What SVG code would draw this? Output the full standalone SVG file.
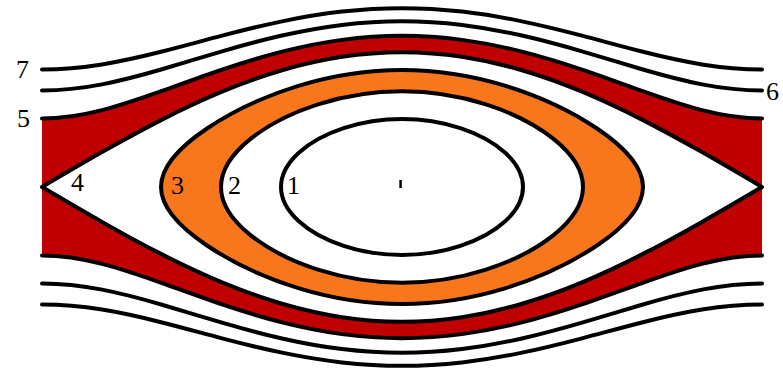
<svg xmlns="http://www.w3.org/2000/svg" width="783" height="368" viewBox="0 0 783 368">
<style>
.ln{fill:none;stroke:#000;stroke-width:4;stroke-linecap:round;stroke-linejoin:round}
.lbl{font-family:"Liberation Serif","Times New Roman",serif;font-size:26px;fill:#000}
</style>
<rect width="783" height="368" fill="#fff"/>
<g id="red-region">
<path fill="#c00000" d="M 42 118.53 C 62 118.53, 82 115.309, 102 110.15 C 122 104.991, 142 98.067, 162 90.92 C 182 83.773, 202 76.396, 222 69.64 C 242 62.884, 262 56.734, 282 51.66 C 302 46.586, 322 42.585, 342 39.89 C 362 37.195, 382 35.81, 402 35.81 C 422 35.81, 442 37.195, 462 39.89 C 482 42.585, 502 46.586, 522 51.66 C 542 56.734, 562 62.884, 582 69.64 C 602 76.396, 622 83.773, 642 90.92 C 662 98.067, 682 104.991, 702 110.15 C 722 115.309, 742 118.53, 762 118.53 L 762 255.47 C 742 255.47, 722 258.691, 702 263.85 C 682 269.009, 662 275.933, 642 283.08 C 622 290.227, 602 297.604, 582 304.36 C 562 311.116, 542 317.266, 522 322.34 C 502 327.414, 482 331.415, 462 334.11 C 442 336.805, 422 338.19, 402 338.19 C 382 338.19, 362 336.805, 342 334.11 C 322 331.415, 302 327.414, 282 322.34 C 262 317.266, 242 311.116, 222 304.36 C 202 297.604, 182 290.227, 162 283.08 C 142 275.933, 122 269.009, 102 263.85 C 82 258.691, 62 255.47, 42 255.47 Z"/>
</g>
<g id="separatrix-4">
<path class="ln" fill="#fff" style="fill:#fff" d="M 402 52.2 C 422 52.2, 442 53.745, 462 56.79 C 482 59.835, 502 64.378, 522 70.26 C 542 76.142, 562 83.362, 582 91.68 C 602 99.998, 622 109.412, 642 119.6 C 662 129.788, 682 140.747, 702 152.11 C 722 163.473, 742 175.236, 762 187 C 742 198.764, 722 210.527, 702 221.89 C 682 233.253, 662 244.212, 642 254.4 C 622 264.588, 602 274.002, 582 282.32 C 562 290.638, 542 297.858, 522 303.74 C 502 309.622, 482 314.165, 462 317.21 C 442 320.255, 422 321.8, 402 321.8 C 382 321.8, 362 320.255, 342 317.21 C 322 314.165, 302 309.622, 282 303.74 C 262 297.858, 242 290.638, 222 282.32 C 202 274.002, 182 264.588, 162 254.4 C 142 244.212, 122 233.253, 102 221.89 C 82 210.527, 62 198.764, 42 187 C 62 175.236, 82 163.473, 102 152.11 C 122 140.747, 142 129.788, 162 119.6 C 182 109.412, 202 99.998, 222 91.68 C 242 83.362, 262 76.142, 282 70.26 C 302 64.378, 322 59.835, 342 56.79 C 362 53.745, 382 52.2, 402 52.2 Z"/>
<text class="lbl" x="71" y="191">4</text>
</g>
<g id="orbit-3">
<path class="ln" style="fill:#f8771d" d="M 402 69.98 C 436.72 69.98, 471.52 75.45, 504.9 85.66 C 538.28 95.87, 570.65 110.8, 596.98 128.49 C 623.31 146.18, 643 166.58, 643 187 C 643 207.42, 623.31 227.82, 596.98 245.51 C 570.65 263.2, 538.28 278.13, 504.9 288.34 C 471.52 298.55, 436.72 304.02, 402 304.02 C 367.28 304.02, 332.48 298.55, 299.1 288.34 C 265.72 278.13, 233.35 263.2, 207.02 245.51 C 180.69 227.82, 161 207.42, 161 187 C 161 166.58, 180.69 146.18, 207.02 128.49 C 233.35 110.8, 265.72 95.87, 299.1 85.66 C 332.48 75.45, 367.28 69.98, 402 69.98 Z"/>
<text class="lbl" x="171" y="194">3</text>
</g>
<g id="orbit-2">
<path class="ln" style="fill:#fff" d="M 402 91.27 C 430.41 91.27, 458.88 95.75, 485.19 104.1 C 511.51 112.45, 535.8 124.67, 553.81 139.14 C 571.82 153.61, 583 170.29, 583 187 C 583 203.71, 571.82 220.39, 553.81 234.86 C 535.8 249.33, 511.51 261.55, 485.19 269.9 C 458.88 278.25, 430.41 282.73, 402 282.73 C 373.59 282.73, 345.12 278.25, 318.81 269.9 C 292.49 261.55, 268.2 249.33, 250.19 234.86 C 232.18 220.39, 221 203.71, 221 187 C 221 170.29, 232.18 153.61, 250.19 139.14 C 268.2 124.67, 292.49 112.45, 318.81 104.1 C 345.12 95.75, 373.59 91.27, 402 91.27 Z"/>
<text class="lbl" x="228" y="194">2</text>
</g>
<g id="orbit-1">
<path class="ln" d="M 402 119.09 C 422.15 119.09, 442.32 122.26, 460.35 128.19 C 478.38 134.12, 494.26 142.79, 505.46 153.05 C 516.66 163.31, 523 175.15, 523 187 C 523 198.85, 516.66 210.69, 505.46 220.95 C 494.26 231.21, 478.38 239.88, 460.35 245.81 C 442.32 251.74, 422.15 254.91, 402 254.91 C 381.85 254.91, 361.68 251.74, 343.65 245.81 C 325.62 239.88, 309.74 231.21, 298.54 220.95 C 287.34 210.69, 281 198.85, 281 187 C 281 175.15, 287.34 163.31, 298.54 153.05 C 309.74 142.79, 325.62 134.12, 343.65 128.19 C 361.68 122.26, 381.85 119.09, 402 119.09 Z"/>
<text class="lbl" x="287" y="194">1</text>
</g>
<g id="center">
<rect x="399.3" y="180" width="2.5" height="8" fill="#000"/>
</g>
<g id="orbit-5">
<path class="ln" d="M 42 118.53 C 62 118.53, 82 115.309, 102 110.15 C 122 104.991, 142 98.067, 162 90.92 C 182 83.773, 202 76.396, 222 69.64 C 242 62.884, 262 56.734, 282 51.66 C 302 46.586, 322 42.585, 342 39.89 C 362 37.195, 382 35.81, 402 35.81 C 422 35.81, 442 37.195, 462 39.89 C 482 42.585, 502 46.586, 522 51.66 C 542 56.734, 562 62.884, 582 69.64 C 602 76.396, 622 83.773, 642 90.92 C 662 98.067, 682 104.991, 702 110.15 C 722 115.309, 742 118.53, 762 118.53"/>
<path class="ln" d="M 42 255.47 C 62 255.47, 82 258.691, 102 263.85 C 122 269.009, 142 275.933, 162 283.08 C 182 290.227, 202 297.604, 222 304.36 C 242 311.116, 262 317.266, 282 322.34 C 302 327.414, 322 331.415, 342 334.11 C 362 336.805, 382 338.19, 402 338.19 C 422 338.19, 442 336.805, 462 334.11 C 482 331.415, 502 327.414, 522 322.34 C 542 317.266, 562 311.116, 582 304.36 C 602 297.604, 622 290.227, 642 283.08 C 662 275.933, 682 269.009, 702 263.85 C 722 258.691, 742 255.47, 762 255.47"/>
<text class="lbl" x="17" y="127">5</text>
</g>
<g id="orbit-6">
<path class="ln" d="M 42 90.5 C 62 90.5, 82 88.243, 102 84.38 C 122 80.517, 142 75.124, 162 69.29 C 182 63.456, 202 57.206, 222 51.36 C 242 45.514, 262 40.074, 282 35.54 C 302 31.006, 322 27.376, 342 24.93 C 362 22.484, 382 21.22, 402 21.22 C 422 21.22, 442 22.484, 462 24.93 C 482 27.376, 502 31.006, 522 35.54 C 542 40.074, 562 45.514, 582 51.36 C 602 57.206, 622 63.456, 642 69.29 C 662 75.124, 682 80.517, 702 84.38 C 722 88.243, 742 90.5, 762 90.5"/>
<path class="ln" d="M 42 283.5 C 62 283.5, 82 285.757, 102 289.62 C 122 293.483, 142 298.876, 162 304.71 C 182 310.544, 202 316.794, 222 322.64 C 242 328.486, 262 333.926, 282 338.46 C 302 342.994, 322 346.624, 342 349.07 C 362 351.516, 382 352.78, 402 352.78 C 422 352.78, 442 351.516, 462 349.07 C 482 346.624, 502 342.994, 522 338.46 C 542 333.926, 562 328.486, 582 322.64 C 602 316.794, 622 310.544, 642 304.71 C 662 298.876, 682 293.483, 702 289.62 C 722 285.757, 742 283.5, 762 283.5"/>
<text class="lbl" x="766" y="100">6</text>
</g>
<g id="orbit-7">
<path class="ln" d="M 42 69.48 C 62 69.48, 82 67.644, 102 64.41 C 122 61.176, 142 56.599, 162 51.53 C 182 46.461, 202 40.93, 222 35.69 C 242 30.45, 262 25.495, 282 21.35 C 302 17.205, 322 13.86, 342 11.6 C 362 9.34, 382 8.17, 402 8.17 C 422 8.17, 442 9.34, 462 11.6 C 482 13.86, 502 17.205, 522 21.35 C 542 25.495, 562 30.45, 582 35.69 C 602 40.93, 622 46.461, 642 51.53 C 662 56.599, 682 61.176, 702 64.41 C 722 67.644, 742 69.48, 762 69.48"/>
<path class="ln" d="M 42 304.52 C 62 304.52, 82 306.356, 102 309.59 C 122 312.824, 142 317.401, 162 322.47 C 182 327.539, 202 333.07, 222 338.31 C 242 343.55, 262 348.505, 282 352.65 C 302 356.795, 322 360.14, 342 362.4 C 362 364.66, 382 365.83, 402 365.83 C 422 365.83, 442 364.66, 462 362.4 C 482 360.14, 502 356.795, 522 352.65 C 542 348.505, 562 343.55, 582 338.31 C 602 333.07, 622 327.539, 642 322.47 C 662 317.401, 682 312.824, 702 309.59 C 722 306.356, 742 304.52, 762 304.52"/>
<text class="lbl" x="16" y="78">7</text>
</g>
<g id="connectors"/>
</svg>
